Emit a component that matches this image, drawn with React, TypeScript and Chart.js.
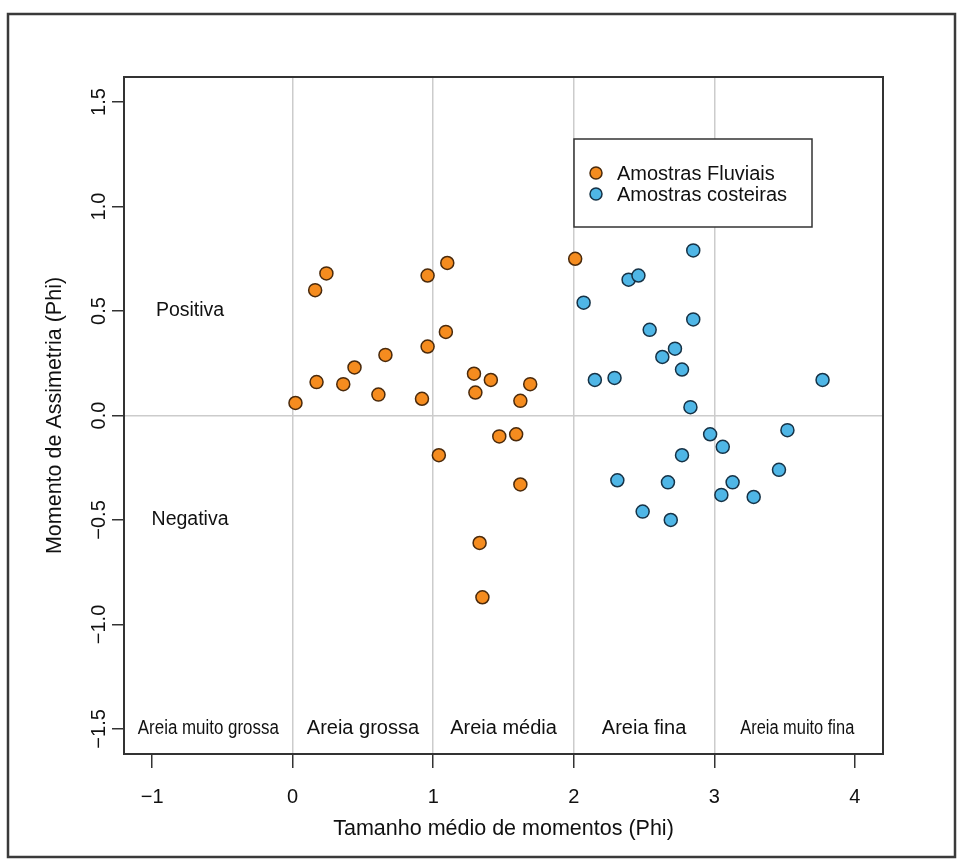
import React, { useEffect, useRef } from "react";
import { Chart, registerables } from "chart.js";

Chart.register(...registerables);

// ---- Data ----
const fluvialX = [0.02, 0.16, 0.24, 0.17, 0.36, 0.44, 0.66, 0.61, 0.92, 0.96, 0.96, 1.10, 1.09, 1.29, 1.30, 1.41, 1.69, 1.62, 2.01, 1.47, 1.59, 1.04, 1.62, 1.33, 1.35];
const fluvialY = [0.06, 0.60, 0.68, 0.16, 0.15, 0.23, 0.29, 0.10, 0.08, 0.67, 0.33, 0.73, 0.40, 0.20, 0.11, 0.17, 0.15, 0.07, 0.75, -0.10, -0.09, -0.19, -0.33, -0.61, -0.87];

const costeiraX = [2.85, 2.39, 2.46, 2.07, 2.85, 2.54, 2.72, 2.63, 2.77, 2.15, 2.29, 3.77, 2.83, 3.52, 2.97, 3.06, 2.77, 3.46, 2.31, 2.67, 3.13, 3.05, 3.28, 2.49, 2.69];
const costeiraY = [0.79, 0.65, 0.67, 0.54, 0.46, 0.41, 0.32, 0.28, 0.22, 0.17, 0.18, 0.17, 0.04, -0.07, -0.09, -0.15, -0.19, -0.26, -0.31, -0.32, -0.32, -0.38, -0.39, -0.46, -0.50];

const seriesLabels = ["Amostras Fluviais", "Amostras costeiras"];

const xTicks = [-1, 0, 1, 2, 3, 4];
const xTickLabels = ["\u22121", "0", "1", "2", "3", "4"];
const yTicks = [-1.5, -1, -0.5, 0, 0.5, 1, 1.5];
const yTickLabels = ["\u22121.5", "\u22121.0", "\u22120.5", "0.0", "0.5", "1.0", "1.5"];
const verticalGridAt = [0, 1, 2, 3];
const horizontalGridAt = [0];

const classLabels = ["Areia muito grossa", "Areia grossa", "Areia média", "Areia fina", "Areia muito fina"];
const classLabelX = [-0.6, 0.5, 1.5, 2.5, 3.59];
const classLabelY = -1.5;
const classLabelMaxWidth = [141, 0, 0, 0, 114];

const skewLabels = ["Positiva", "Negativa"];
const skewLabelX = [-0.73, -0.73];
const skewLabelY = [0.5, -0.5];

const xTitle = "Tamanho médio de momentos (Phi)";
const yTitle = "Momento de Assimetria (Phi)";

const FONT = '"Liberation Sans", Arial, Helvetica, sans-serif';
const ORANGE = "#F58C1F";
const ORANGE_EDGE = "#4a2a0c";
const BLUE = "#4FB6E6";
const BLUE_EDGE = "#163246";

const decorPlugin = {
  id: "decor",
  afterDraw(chart: any) {
    const ctx = chart.ctx;
    const xs = chart.scales.x;
    const ys = chart.scales.y;
    const area = chart.chartArea;
    ctx.save();

    // outer frame
    ctx.strokeStyle = "#3a3a3a";
    ctx.lineWidth = 2.5;
    ctx.strokeRect(8, 14, 947, 843);

    // plot box
    ctx.strokeStyle = "#333";
    ctx.lineWidth = 2;
    ctx.strokeRect(area.left, area.top, area.right - area.left, area.bottom - area.top);

    ctx.fillStyle = "#111";
    // x tick labels
    ctx.font = `20px ${FONT}`;
    ctx.textAlign = "center";
    ctx.textBaseline = "middle";
    xTicks.forEach((v, i) => {
      ctx.fillText(xTickLabels[i], xs.getPixelForValue(v), 797);
    });
    // y tick labels (rotated)
    yTicks.forEach((v, i) => {
      ctx.save();
      ctx.translate(99, ys.getPixelForValue(v));
      ctx.rotate(-Math.PI / 2);
      ctx.fillText(yTickLabels[i], 0, 0);
      ctx.restore();
    });

    // axis titles
    ctx.font = `21.5px ${FONT}`;
    ctx.fillText(xTitle, (area.left + area.right) / 2, 829);
    ctx.save();
    ctx.translate(55, (area.top + area.bottom) / 2);
    ctx.rotate(-Math.PI / 2);
    ctx.fillText(yTitle, 0, 0);
    ctx.restore();

    // annotations
    ctx.font = `19.5px ${FONT}`;
    skewLabels.forEach((t, i) => {
      ctx.fillText(t, xs.getPixelForValue(skewLabelX[i]), ys.getPixelForValue(skewLabelY[i]));
    });
    ctx.font = `20px ${FONT}`;
    classLabels.forEach((t, i) => {
      const px = xs.getPixelForValue(classLabelX[i]);
      const py = ys.getPixelForValue(classLabelY);
      if (classLabelMaxWidth[i] > 0) {
        ctx.fillText(t, px, py, classLabelMaxWidth[i]);
      } else {
        ctx.fillText(t, px, py);
      }
    });

    // legend
    const lx = 574, ly = 139, lw = 238, lh = 88;
    ctx.fillStyle = "#fff";
    ctx.fillRect(lx, ly, lw, lh);
    ctx.strokeStyle = "#333";
    ctx.lineWidth = 1.5;
    ctx.strokeRect(lx, ly, lw, lh);
    const rows = [173, 194];
    chart.data.datasets.forEach((ds: any, i: number) => {
      ctx.beginPath();
      ctx.arc(596, rows[i], 6, 0, Math.PI * 2);
      ctx.fillStyle = ds.backgroundColor;
      ctx.fill();
      ctx.lineWidth = 1.5;
      ctx.strokeStyle = ds.borderColor;
      ctx.stroke();
      ctx.fillStyle = "#111";
      ctx.textAlign = "left";
      ctx.font = `20px ${FONT}`;
      ctx.fillText(ds.label, 617, rows[i] + 1);
    });

    ctx.restore();
  },
};

export default function App() {
  const canvasRef = useRef<HTMLCanvasElement | null>(null);

  useEffect(() => {
    if (!canvasRef.current) return;
    const chart = new Chart(canvasRef.current, {
      type: "scatter",
      data: {
        datasets: [
          {
            label: seriesLabels[0],
            data: fluvialX.map((x, i) => ({ x, y: fluvialY[i] })),
            backgroundColor: ORANGE,
            borderColor: ORANGE_EDGE,
            borderWidth: 1.5,
            pointRadius: 6.5,
          },
          {
            label: seriesLabels[1],
            data: costeiraX.map((x, i) => ({ x, y: costeiraY[i] })),
            backgroundColor: BLUE,
            borderColor: BLUE_EDGE,
            borderWidth: 1.5,
            pointRadius: 6.5,
          },
        ],
      },
      options: {
        animation: false,
        responsive: false,
        devicePixelRatio: 1,
        layout: { padding: { top: 77, right: 74, left: 0, bottom: 0 } },
        plugins: { legend: { display: false }, tooltip: { enabled: false } },
        scales: {
          x: {
            type: "linear",
            min: -1.2,
            max: 4.2,
            afterBuildTicks: (s: any) => {
              s.ticks = xTicks.map((v) => ({ value: v }));
            },
            afterFit: (s: any) => {
              s.height = 106;
            },
            ticks: { display: false },
            border: { display: false },
            grid: {
              color: (c: any) =>
                c.tick && verticalGridAt.includes(c.tick.value) ? "#cccccc" : "rgba(0,0,0,0)",
              lineWidth: 1.5,
              drawTicks: true,
              tickLength: 14,
              tickColor: "#333",
              tickWidth: 1.5,
            },
          },
          y: {
            type: "linear",
            min: -1.62,
            max: 1.62,
            afterBuildTicks: (s: any) => {
              s.ticks = yTicks.map((v) => ({ value: v }));
            },
            afterFit: (s: any) => {
              s.width = 124;
            },
            ticks: { display: false },
            border: { display: false },
            grid: {
              color: (c: any) =>
                c.tick && horizontalGridAt.includes(c.tick.value) ? "#cccccc" : "rgba(0,0,0,0)",
              lineWidth: 1.5,
              drawTicks: true,
              tickLength: 12,
              tickColor: "#333",
              tickWidth: 1.5,
            },
          },
        },
      } as any,
      plugins: [decorPlugin],
    });
    return () => chart.destroy();
  }, []);

  return (
    <div style={{ position: "absolute", left: 0, top: 0, width: 957, height: 860, background: "#fff" }}>
      <canvas ref={canvasRef} width={957} height={860} style={{ display: "block" }} />
    </div>
  );
}
